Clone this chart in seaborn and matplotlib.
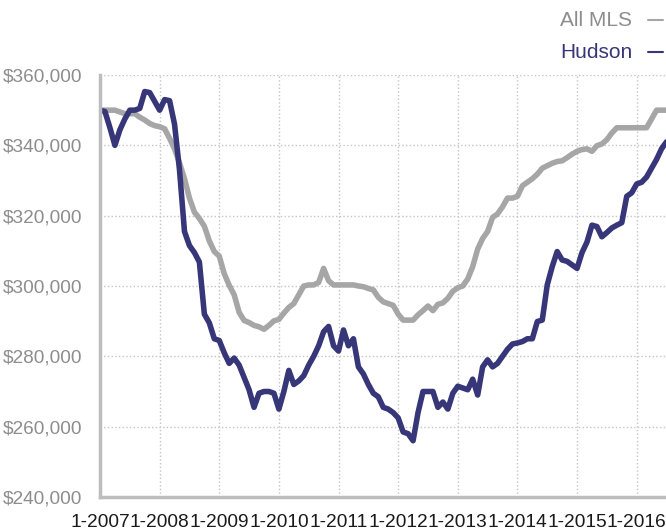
import matplotlib
matplotlib.use('Agg')
import matplotlib.pyplot as plt
from matplotlib.lines import Line2D
import pandas as pd
import seaborn as sns

# median price, thousands of dollars, one point per month from 1-2007
all_mls = [350, 350, 350, 350, 349.5, 349, 349, 349, 348, 347.2,
           346.2, 345.6, 345.3, 344.7, 342, 339, 335, 330.5, 325, 321,
           319.2, 317, 312.8, 309.8, 308.5, 303.5, 300.2, 297.5, 292.5, 290.2,
           289.6, 288.8, 288.4, 287.7, 288.8, 290.1, 290.5, 292.3, 293.9, 295,
           297.5, 300, 300.3, 300.3, 301, 305, 301.5, 300.3, 300.3, 300.3,
           300.3, 300.3, 300, 299.8, 299.3, 298.9, 296.8, 295.5, 295, 294.5,
           292, 290.3, 290.3, 290.3, 291.8, 293, 294.3, 293, 294.8, 295.2,
           296.5, 298.5, 299.5, 300, 302, 305.5, 310.5, 313.5, 315.5, 319.5,
           320.5, 322.5, 325, 325, 325.5, 328.5, 329.5, 330.5, 331.8, 333.5,
           334.2, 334.9, 335.4, 335.6, 336.5, 337.5, 338.3, 338.8, 339, 338.3,
           339.9, 340.4, 341.6, 343.5, 345, 345, 345, 345, 345, 345,
           345, 347.5, 350, 350, 350]
hudson = [350, 349.6, 345, 340, 344.4, 347.5, 350, 350, 350.5, 355.3,
          355, 352.5, 350, 353, 352.7, 346, 333, 315.5, 311.5, 309.5,
          306.8, 292, 289.5, 285, 284.5, 281, 278, 279.5, 277.5, 274,
          270.5, 265.5, 269.5, 270, 270, 269.5, 265, 270, 276, 272,
          273, 274.5, 277.5, 280, 283, 287, 288.5, 283, 281.5, 287.5,
          283, 285, 277, 275, 272, 269.5, 268.5, 265.5, 265, 264,
          262.5, 258.5, 258, 256, 264, 270, 270, 270, 265.5, 267,
          265, 269.5, 271.5, 271, 270.5, 273.5, 269, 277, 279, 277,
          278, 280, 282, 283.5, 283.8, 284.2, 285, 285, 289.9, 290.3,
          300.3, 305.5, 309.8, 307.4, 307, 306, 305, 309.5, 312.5, 317.3,
          316.9, 314, 315.2, 316.5, 317.3, 318, 325.5, 326.5, 329, 329.5,
          331, 333.5, 336, 339, 341]
tick_labels = ['1-2007', '1-2008', '1-2009', '1-2010', '1-2011',
               '1-2012', '1-2013', '1-2014', '1-2015', '1-2016']
y_ticks = [240000, 260000, 280000, 300000, 320000, 340000, 360000]

GRAY = '#a6a6a6'
NAVY = '#363678'

sns.set_style('white')
plt.rcParams['font.family'] = ['Liberation Sans', 'DejaVu Sans']

n = len(all_mls)
df = pd.DataFrame({
    'month': list(range(n)) * 2,
    'price': [v * 1000 for v in all_mls + hudson],
    'area': ['All MLS'] * n + ['Hudson'] * n,
})

fig = plt.figure(figsize=(6.66, 5.31), dpi=100)
ax = fig.add_axes([100 / 666, 34 / 531, 566 / 666, 422 / 531])
sns.lineplot(data=df, x='month', y='price', hue='area',
             palette={'All MLS': GRAY, 'Hudson': NAVY},
             linewidth=4, legend=False, ax=ax)

ax.set_xlim(0, 113.9)
ax.set_ylim(240000, 360000)
ax.set_xticks(range(0, 12 * len(tick_labels), 12))
ax.set_xticklabels(tick_labels)
ax.set_yticks(y_ticks)
ax.set_yticklabels(['${:,}'.format(v) for v in y_ticks])
ax.set_xlabel('')
ax.set_ylabel('')

ax.grid(True, linestyle=':', color='#c4c4c4', linewidth=1)
ax.set_axisbelow(True)
for s in ['top', 'right']:
    ax.spines[s].set_visible(False)
for s in ['left', 'bottom']:
    ax.spines[s].set_color('#bdbdbd')
    ax.spines[s].set_linewidth(2.5)
ax.tick_params(axis='x', length=4, width=1.5, color='#bdbdbd',
               labelsize=13.8, labelcolor='#1a1a1a', pad=8)
ax.tick_params(axis='y', length=0, labelsize=13.7, labelcolor='#8d8d8d', pad=13)

# legend in the top right corner
fig.text(632 / 666, 1 - 20 / 531, 'All MLS', ha='right', va='center',
         fontsize=15, color='#8d8d8d')
fig.text(632 / 666, 1 - 52 / 531, 'Hudson', ha='right', va='center',
         fontsize=15, color=NAVY)
fig.add_artist(Line2D([648 / 666, 663 / 666], [1 - 20 / 531] * 2,
                      transform=fig.transFigure, color=GRAY, linewidth=1.5))
fig.add_artist(Line2D([648 / 666, 663 / 666], [1 - 52 / 531] * 2,
                      transform=fig.transFigure, color=NAVY, linewidth=1.5))

fig.savefig('out.png', dpi=100)
